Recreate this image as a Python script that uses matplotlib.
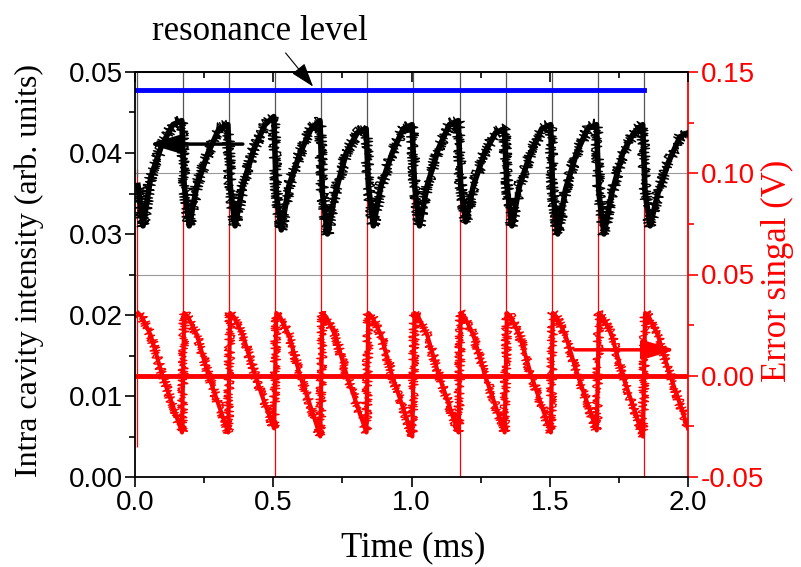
import matplotlib
matplotlib.use("Agg")
import matplotlib.pyplot as plt
from matplotlib.ticker import MultipleLocator

serif = ["Liberation Serif", "DejaVu Serif"]
narrow = ["Liberation Sans Narrow", "Liberation Sans", "DejaVu Sans"]

# reset (scan flyback) times, ms
reset_t = [0.007, 0.174, 0.340, 0.507, 0.674, 0.840, 1.007, 1.174, 1.341, 1.507, 1.674, 1.841]

# intra cavity intensity ramps (left axis)
black_t = [0.011, 0.029, 0.057, 0.097, 0.137, 0.169,
           0.178, 0.196, 0.224, 0.264, 0.304, 0.336,
           0.344, 0.362, 0.390, 0.430, 0.470, 0.502,
           0.511, 0.529, 0.557, 0.597, 0.637, 0.669,
           0.678, 0.696, 0.724, 0.764, 0.804, 0.836,
           0.844, 0.862, 0.890, 0.930, 0.970, 1.002,
           1.011, 1.029, 1.057, 1.097, 1.137, 1.169,
           1.178, 1.196, 1.224, 1.264, 1.304, 1.336,
           1.345, 1.363, 1.391, 1.431, 1.471, 1.503,
           1.511, 1.529, 1.557, 1.597, 1.637, 1.669,
           1.678, 1.696, 1.724, 1.764, 1.804, 1.836,
           1.845, 1.863, 1.891, 1.931, 1.971, 2.000]
black_v = [0.036, 0.031, 0.037, 0.041, 0.0435, 0.044,
           0.036, 0.031, 0.036, 0.040, 0.043, 0.0435,
           0.036, 0.031, 0.036, 0.0405, 0.0435, 0.0445,
           0.035, 0.0305, 0.036, 0.040, 0.043, 0.044,
           0.035, 0.030, 0.035, 0.040, 0.0425, 0.043,
           0.036, 0.031, 0.036, 0.040, 0.043, 0.0435,
           0.036, 0.031, 0.036, 0.0405, 0.0435, 0.044,
           0.036, 0.0315, 0.036, 0.040, 0.0425, 0.043,
           0.036, 0.031, 0.036, 0.040, 0.043, 0.0435,
           0.035, 0.030, 0.0355, 0.040, 0.043, 0.0435,
           0.035, 0.030, 0.035, 0.040, 0.0425, 0.0435,
           0.035, 0.031, 0.035, 0.039, 0.042, 0.0425]
black_spike_lo = 0.037
black_spike_hi = 0.052

# error signal ramps (right axis)
red_t = [0.011, 0.025, 0.057, 0.097, 0.132, 0.170,
         0.178, 0.192, 0.224, 0.264, 0.299, 0.337,
         0.344, 0.358, 0.390, 0.430, 0.465, 0.503,
         0.511, 0.525, 0.557, 0.597, 0.632, 0.670,
         0.678, 0.692, 0.724, 0.764, 0.799, 0.837,
         0.844, 0.858, 0.890, 0.930, 0.965, 1.003,
         1.011, 1.025, 1.057, 1.097, 1.132, 1.170,
         1.178, 1.192, 1.224, 1.264, 1.299, 1.337,
         1.345, 1.359, 1.391, 1.431, 1.466, 1.504,
         1.511, 1.525, 1.557, 1.597, 1.632, 1.670,
         1.678, 1.692, 1.724, 1.764, 1.799, 1.837,
         1.845, 1.859, 1.891, 1.931, 1.966, 2.000]
red_v = [0.031, 0.029, 0.020, 0.001, -0.013, -0.028,
         0.031, 0.029, 0.020, 0.001, -0.013, -0.028,
         0.031, 0.029, 0.020, 0.002, -0.012, -0.026,
         0.031, 0.029, 0.020, 0.000, -0.014, -0.030,
         0.031, 0.029, 0.020, 0.001, -0.013, -0.028,
         0.031, 0.029, 0.020, 0.000, -0.014, -0.030,
         0.031, 0.029, 0.020, 0.001, -0.013, -0.028,
         0.031, 0.029, 0.020, 0.001, -0.013, -0.028,
         0.031, 0.029, 0.020, 0.001, -0.013, -0.028,
         0.031, 0.029, 0.020, 0.002, -0.012, -0.027,
         0.031, 0.029, 0.020, 0.000, -0.014, -0.030,
         0.031, 0.029, 0.020, 0.002, -0.012, -0.026]
red_spike_lo = [-0.035, -0.006, -0.005, -0.05, -0.008, -0.006,
                -0.005, -0.05, -0.006, -0.005, -0.005, -0.05]
red_spike_hi = 0.102

resonance_level = 0.0478
resonance_end = 1.84
lock_point = 0.0

fig = plt.figure(figsize=(8.01, 5.67), dpi=100)
ax = fig.add_axes([135 / 801, 1 - 477 / 567, 553 / 801, 405 / 567])
ax2 = ax.twinx()
ax.set_zorder(ax2.get_zorder() + 1)
ax.patch.set_visible(False)

# right axis: error signal
ax2.set_ylim(-0.05, 0.15)
ax2.yaxis.grid(True, color="#999999", lw=0.8)
ax2.vlines(reset_t, red_spike_lo, red_spike_hi, color="red", lw=0.9)
ax2.plot(red_t, red_v, color="red", lw=3.0)
ln, = ax2.plot(red_t, red_v, color="red", lw=1.0)
ln.set_sketch_params(scale=5, length=2, randomness=4)
ax2.plot([0, 2.0], [lock_point, lock_point], color="red", lw=3.5)

# left axis: intensity
ax.set_xlim(0, 2.0)
ax.set_ylim(0, 0.05)
ax.vlines(reset_t, black_spike_lo, black_spike_hi, color="#555555", lw=0.9)
ax.plot(black_t, black_v, color="black", lw=4.0)
ln, = ax.plot(black_t, black_v, color="black", lw=1.0)
ln.set_sketch_params(scale=6, length=2, randomness=4)
ax.plot([0, resonance_end], [resonance_level, resonance_level], color="blue", lw=3.5)

# arrows and annotation
ax.annotate("", xy=(0.04, 0.0411), xytext=(0.40, 0.0411),
            arrowprops=dict(arrowstyle="-|>,head_length=1.0,head_width=0.3",
                            mutation_scale=20, lw=2.5, color="black"))
ax2.annotate("", xy=(1.965, 0.0128), xytext=(1.58, 0.0128),
             arrowprops=dict(arrowstyle="-|>,head_length=1.0,head_width=0.3",
                             mutation_scale=20, lw=2.5, color="red"))
ax.annotate("resonance level", xy=(0.644, 0.0482), xytext=(0.226, 1.079),
            textcoords="axes fraction", ha="center", va="baseline",
            fontsize=25, family=serif, annotation_clip=False,
            arrowprops=dict(arrowstyle="-|>,head_length=0.6,head_width=0.2",
                            color="black", lw=0.8, relpos=(0.6, 0.0),
                            shrinkA=2, shrinkB=0))

# axes styling
ax.spines["right"].set_visible(False)
for s in ["left", "top", "bottom"]:
    ax2.spines[s].set_visible(False)
    ax.spines[s].set_linewidth(1.3)
ax2.spines["right"].set_color("red")
ax2.spines["right"].set_linewidth(1.3)

ax.xaxis.set_major_locator(MultipleLocator(0.5))
ax.xaxis.set_minor_locator(MultipleLocator(0.25))
ax.yaxis.set_major_locator(MultipleLocator(0.01))
ax.yaxis.set_minor_locator(MultipleLocator(0.005))
ax2.yaxis.set_major_locator(MultipleLocator(0.05))
ax2.yaxis.set_minor_locator(MultipleLocator(0.025))
ax.xaxis.set_major_formatter(plt.FormatStrFormatter("%.1f"))
ax.yaxis.set_major_formatter(plt.FormatStrFormatter("%.2f"))
ax2.yaxis.set_major_formatter(plt.FormatStrFormatter("%.2f"))

ax.tick_params(which="major", length=7, width=1.2, direction="out", labelsize=20, pad=2)
ax.tick_params(which="minor", length=4, width=1.2, direction="out")
ax2.tick_params(which="major", length=7, width=1.2, direction="out", labelsize=20, pad=2,
                color="red", labelcolor="red")
ax2.tick_params(which="minor", length=4, width=1.2, direction="out", color="red")
for lab in ax.get_xticklabels() + ax.get_yticklabels() + ax2.get_yticklabels():
    lab.set_family(narrow)

top = ax.secondary_xaxis("top")
top.xaxis.set_major_locator(MultipleLocator(0.5))
top.xaxis.set_minor_locator(MultipleLocator(0.25))
top.tick_params(which="major", direction="in", length=7, width=1.2, labeltop=False)
top.tick_params(which="minor", direction="in", length=4, width=1.2)
top.spines["top"].set_linewidth(1.3)

ax.set_xlabel("Time (ms)", fontsize=25, family=serif)
ax.set_ylabel("Intra cavity intensity (arb. units)", fontsize=23, family=serif)
ax2.set_ylabel("Error singal (V)", fontsize=25, family=serif, color="red")
ax.xaxis.set_label_coords(0.503, -0.135)
ax.yaxis.set_label_coords(-0.165, 0.51)
ax2.yaxis.set_label_coords(1.132, 0.51)

fig.savefig("out.png", dpi=100)
